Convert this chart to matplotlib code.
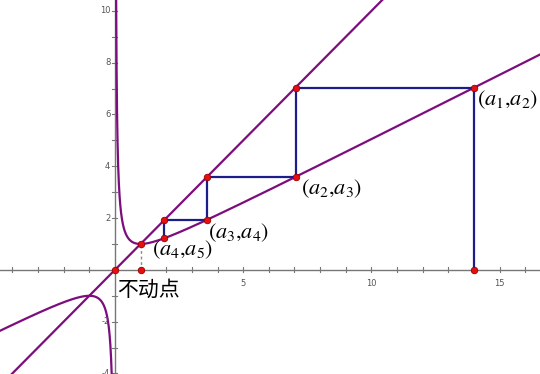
import numpy as np
import matplotlib
matplotlib.use('Agg')
import matplotlib.pyplot as plt

plt.rcParams['mathtext.fontset'] = 'stix'

# sequence a_n (Newton step a_{n+1} = (a_n + 1/a_n)/2)
a = [14.0, 7.04, 3.59, 1.93, 1.23]
point_labels = [r'$(a_1{,}a_2)$', r'$(a_2{,}a_3)$', r'$(a_3{,}a_4)$', r'$(a_4{,}a_5)$']
fixed_point = (1.0, 1.0)
x_tick_labels = [5, 10, 15]
y_tick_labels = [-4, -2, 2, 4, 6, 8, 10]

purple = '#7d0c7d'
navy = '#1c1c8a'
red = '#e41010'


def f(x):
    return (x + 1 / x) / 2


fig = plt.figure(figsize=(5.4, 3.74), dpi=100)
ax = fig.add_axes([0, 0, 1, 1])
ax.set_xlim(-4.48, 16.57)
ax.set_ylim(-4.02, 10.42)
ax.axis('off')

# axes through the origin with unit ticks
ax.axhline(0, color='#777777', lw=1.0, zorder=1)
ax.axvline(0, color='#777777', lw=1.0, zorder=1)
for t in range(-4, 17):
    if t != 0:
        ax.plot([t, t], [-0.1, 0.1], color='#777777', lw=0.8, zorder=1)
for t in range(-4, 11):
    if t != 0:
        ax.plot([-0.12, 0.1], [t, t], color='#777777', lw=0.8, zorder=1)
for t in x_tick_labels:
    ax.text(t, -0.35, str(t), ha='center', va='top', fontsize=6, color='#555555')
for t in y_tick_labels:
    ax.text(-0.18, t, str(t), ha='right', va='center', fontsize=6, color='#555555')

# y = x and the curve
xs = np.array([-5, 17])
ax.plot(xs, xs, color=purple, lw=1.6, zorder=2)
xp = np.geomspace(0.045, 17, 600)
ax.plot(xp, f(xp), color=purple, lw=1.6, zorder=2)
xn = -np.geomspace(0.04, 5, 600)
ax.plot(xn, f(xn), color=purple, lw=1.6, zorder=2)

# cobweb path
px = [a[0], a[0]]
py = [0, a[1]]
for i in range(1, len(a) - 1):
    px += [a[i], a[i]]
    py += [a[i], a[i + 1]]
ax.plot(px, py, color=navy, lw=1.6, zorder=3)

# dashed drop from fixed point
ax.plot([fixed_point[0], fixed_point[0]], [0, fixed_point[1]],
        color='#888888', lw=1.0, ls=(0, (2, 2)), zorder=3)

# red points
dots_x = [0, fixed_point[0], fixed_point[0], a[0], a[0]]
dots_y = [0, 0, fixed_point[1], 0, a[1]]
for i in range(1, len(a) - 1):
    dots_x += [a[i], a[i]]
    dots_y += [a[i], a[i + 1]]
ax.scatter(dots_x, dots_y, s=22, color=red, edgecolor='#990000', lw=0.6, zorder=5)

# labels
offsets = [(0.1, -0.45), (0.2, -0.45), (0.05, -0.5), (-0.5, -0.45)]
for i, lab in enumerate(point_labels):
    ax.text(a[i] + offsets[i][0], a[i + 1] + offsets[i][1], lab,
            fontsize=16, ha='left', va='center', zorder=6)
ax.text(0.1, -0.75, '不动点', fontsize=15, ha='left', va='center',
        family=['Noto Sans CJK SC', 'DejaVu Sans'])

fig.savefig('out.png', dpi=100)
